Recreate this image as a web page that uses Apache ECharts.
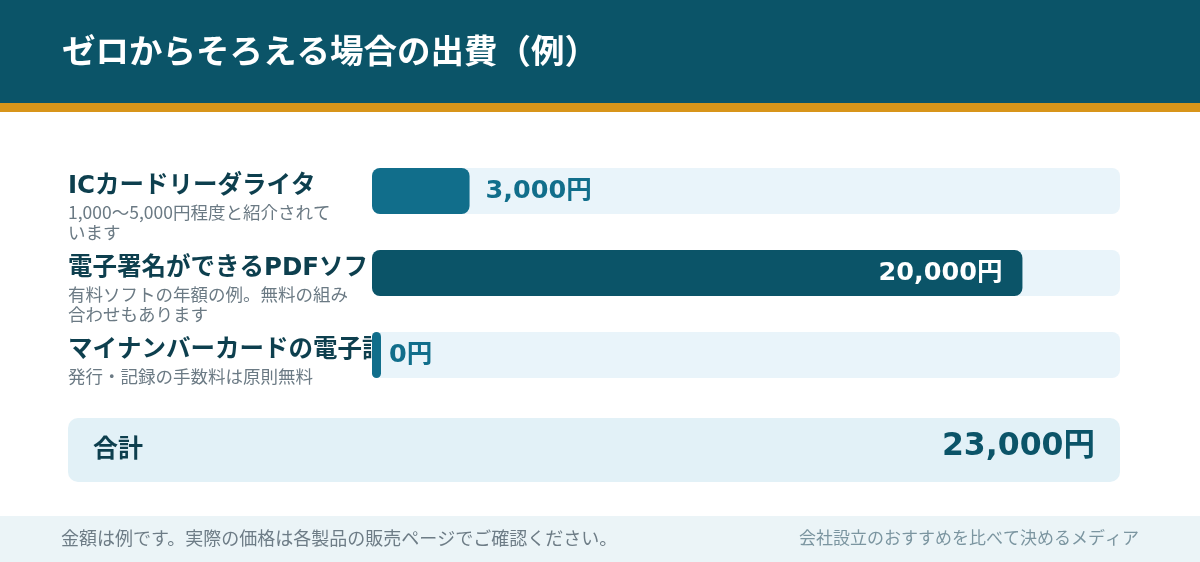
<!DOCTYPE html>
<html><head><meta charset="utf-8">
<script src="https://cdn.jsdelivr.net/npm/echarts@6/dist/echarts.min.js"></script>
<style>html,body{margin:0;padding:0;background:#fff}#c{width:1200px;height:562px}</style>
</head><body><div id="c"></div>
<script>
const title = 'ゼロからそろえる場合の出費（例）';
const categories = ['ICカードリーダライタ', '電子署名ができるPDFソフト', 'マイナンバーカードの電子証明書'];
const notes = ['1,000〜5,000円程度と紹介されて\nいます', '有料ソフトの年額の例。無料の組み\n合わせもあります', '発行・記録の手数料は原則無料'];
const values = [3000, 20000, 0];
const totalLabel = '合計';
const footerLeft = '金額は例です。実際の価格は各製品の販売ページでご確認ください。';
const footerRight = '会社設立のおすすめを比べて決めるメディア';

const total = values.reduce((a, b) => a + b, 0);
const yen = v => v.toLocaleString('en-US') + '円';
const maxV = Math.max(...values);
const DARK = '#0b5468', MID = '#116e8b';
const NUMFONT = '"DejaVu Sans","Noto Sans CJK JP",sans-serif';
const JPFONT = '"Noto Sans CJK JP",sans-serif';

const barData = values.map(v => {
  const big = v === maxV && v > 0;
  return {
    value: v,
    itemStyle: { color: big ? DARK : MID },
    label: big
      ? { position: 'insideRight', distance: 20, color: '#fff' }
      : { position: 'right', distance: v === 0 ? 8 : 16, color: MID }
  };
});

const chart = echarts.init(document.getElementById('c'), null, { renderer: 'canvas' });
chart.setOption({
  backgroundColor: '#fff',
  animation: false,
  grid: { left: 372, right: 80, top: 150, bottom: 166, containLabel: false },
  xAxis: { type: 'value', min: 0, max: total, show: false },
  yAxis: {
    type: 'category', data: categories, inverse: true,
    axisLine: { show: false }, axisTick: { show: false }, splitLine: { show: false },
    axisLabel: {
      align: 'left', margin: 304, interval: 0, hideOverlap: false,
      formatter: (val, idx) => {
        const subLines = notes[idx].split('\n');
        let s = '{pad| }\n{name|' + val + '}';
        subLines.forEach(l => { s += '\n{sub|' + l + '}'; });
        for (let i = subLines.length; i < 2; i++) s += '\n{sub| }';
        return s;
      },
      rich: {
        pad: { lineHeight: 32, fontSize: 1 },
        name: { fontSize: 24.5, fontWeight: 'bold', color: '#0d3f4e', lineHeight: 30, fontFamily: NUMFONT },
        sub: { fontSize: 17.5, color: '#6b7a84', lineHeight: 20, fontFamily: JPFONT }
      }
    }
  },
  series: [{
    type: 'bar', data: barData, barWidth: 46, barMinHeight: 9,
    itemStyle: { borderRadius: 8 },
    showBackground: true,
    backgroundStyle: { color: '#e9f4fa', borderRadius: 8 },
    label: {
      show: true, fontSize: 25.5, fontWeight: 'bold', fontFamily: NUMFONT,
      formatter: p => yen(p.value)
    },
    z: 3
  }],
  graphic: [
    { type: 'rect', shape: { x: 0, y: 0, width: 1200, height: 104 }, style: { fill: DARK }, z: 0 },
    { type: 'rect', shape: { x: 0, y: 103, width: 1200, height: 9 }, style: { fill: '#d8951a' }, z: 0 },
    { type: 'text', x: 62, y: 50, style: { text: title, fill: '#fff', font: 'bold 33.5px "Noto Sans CJK JP"', textVerticalAlign: 'middle' }, z: 1 },
    { type: 'rect', shape: { x: 68, y: 418, width: 1052, height: 64, r: 10 }, style: { fill: '#e2f1f7' }, z: 0 },
    { type: 'text', x: 93, y: 447, style: { text: totalLabel, fill: '#0d3f4e', font: 'bold 25px "Noto Sans CJK JP"', textVerticalAlign: 'middle' }, z: 1 },
    { type: 'text', x: 1095, y: 447, style: { text: yen(total), fill: DARK, font: 'bold 31.5px "DejaVu Sans","Noto Sans CJK JP"', textAlign: 'right', textVerticalAlign: 'middle' }, z: 1 },
    { type: 'rect', shape: { x: 0, y: 516, width: 1200, height: 46 }, style: { fill: '#ebf4f7' }, z: 0 },
    { type: 'text', x: 61, y: 538, style: { text: footerLeft, fill: '#6d7c86', font: '18px "Noto Sans CJK JP"', textVerticalAlign: 'middle' }, z: 1 },
    { type: 'text', x: 1139, y: 538, style: { text: footerRight, fill: '#7b95a0', font: '17px "Noto Sans CJK JP"', textAlign: 'right', textVerticalAlign: 'middle' }, z: 1 }
  ]
});
</script></body></html>
